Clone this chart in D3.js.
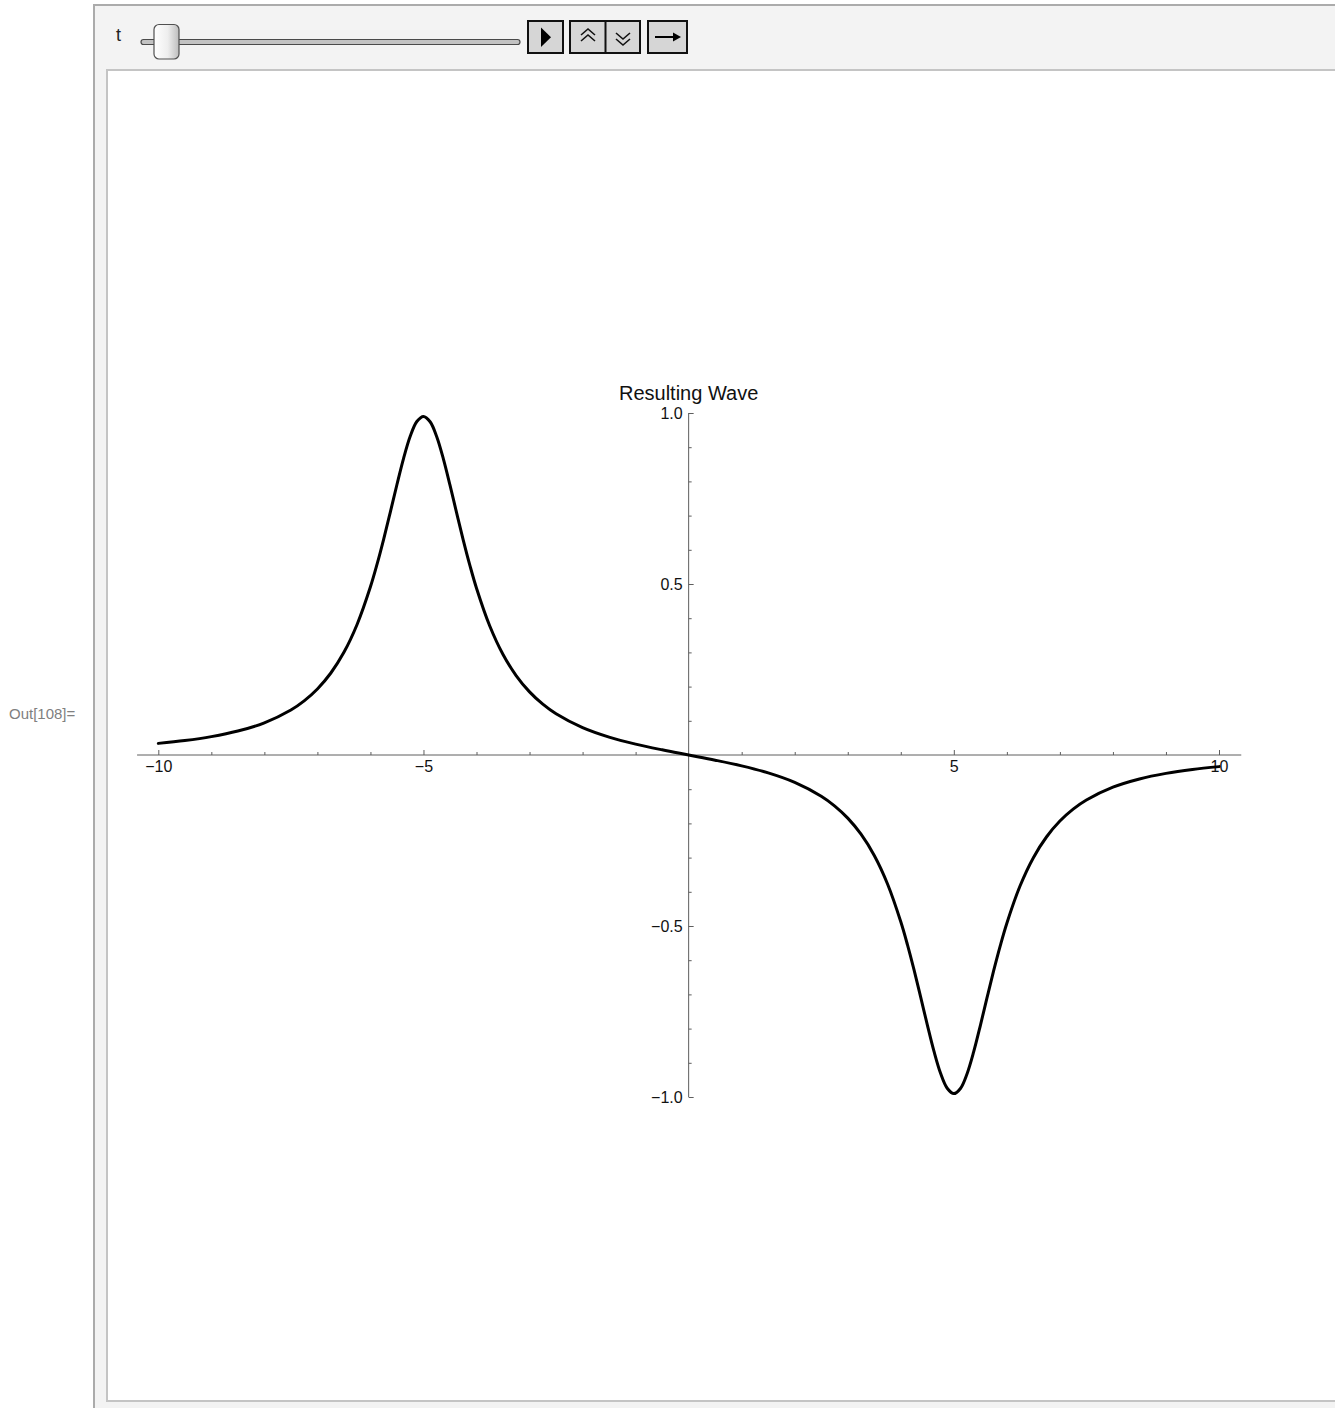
<!DOCTYPE html>
<html>
<head>
<meta charset="utf-8">
<script src="https://cdn.jsdelivr.net/npm/d3@7"></script>
<style>
  html, body { margin: 0; padding: 0; background: #ffffff; }
  svg { display: block; font-family: "Liberation Sans", Arial, sans-serif; }
</style>
</head>
<body>
<svg id="chart" width="1335" height="1408"></svg>
<script>
// Resulting wave samples (x, amplitude); denser around the two pulses
const waveX = [-10, -9.5, -9, -8.5, -8, -7.5, -7.25, -7, -6.75, -6.5, -6.25, -6, -5.875, -5.75, -5.625, -5.5, -5.375, -5.25, -5.125, -5,
  -4.875, -4.75, -4.625, -4.5, -4.375, -4.25, -4.125, -4, -3.75, -3.5, -3.25, -3, -2.75, -2.5, -2, -1.5, -1, -0.5, 0,
  0.5, 1, 1.5, 2, 2.5, 2.75, 3, 3.25, 3.5, 3.75, 4, 4.125, 4.25, 4.375, 4.5, 4.625, 4.75, 4.875, 5,
  5.125, 5.25, 5.375, 5.5, 5.625, 5.75, 5.875, 6, 6.25, 6.5, 6.75, 7, 7.25, 7.5, 8, 8.5, 9, 9.5, 10];
const waveY = [0.0340, 0.0423, 0.0537, 0.0700, 0.0941, 0.1316, 0.1583, 0.1931, 0.2390, 0.3002, 0.3824, 0.4918, 0.5580, 0.6314, 0.7103, 0.7910, 0.8675, 0.9318, 0.9750, 0.9901,
  0.9745, 0.9308, 0.8660, 0.7890, 0.7079, 0.6285, 0.5545, 0.4878, 0.3773, 0.2940, 0.2317, 0.1846, 0.1486, 0.1205, 0.0800, 0.0523, 0.0318, 0.0151, 0,
  -0.0151, -0.0318, -0.0523, -0.0800, -0.1205, -0.1486, -0.1846, -0.2317, -0.2940, -0.3773, -0.4878, -0.5545, -0.6285, -0.7079, -0.7890, -0.8660, -0.9308, -0.9745, -0.9901,
  -0.9750, -0.9318, -0.8675, -0.7910, -0.7103, -0.6314, -0.5580, -0.4918, -0.3824, -0.3002, -0.2390, -0.1931, -0.1583, -0.1316, -0.0941, -0.0700, -0.0537, -0.0423, -0.0340];

const xMajorTicks = [-10, -5, 5, 10];
const xMinorTicks = [-9, -8, -7, -6, -4, -3, -2, -1, 1, 2, 3, 4, 6, 7, 8, 9];
const yMajorTicks = [-1.0, -0.5, 0.5, 1.0];
const yMinorTicks = [-0.9, -0.8, -0.7, -0.6, -0.4, -0.3, -0.2, -0.1, 0.1, 0.2, 0.3, 0.4, 0.6, 0.7, 0.8, 0.9];
const plotTitle = "Resulting Wave";
const outLabel = "Out[108]=";
const sliderLabel = "t";

const svg = d3.select("#chart");

// ---------- Manipulate frame ----------
svg.append("rect").attr("x", 94).attr("y", 5).attr("width", 1300).attr("height", 1420)
  .attr("fill", "#f3f3f3").attr("stroke", "#ababab").attr("stroke-width", 2);
svg.append("rect").attr("x", 107).attr("y", 70).attr("width", 1300).attr("height", 1331)
  .attr("fill", "#ffffff").attr("stroke", "#c4c4c4").attr("stroke-width", 2);

svg.append("text").attr("x", 9).attr("y", 719).attr("font-size", 15).attr("fill", "#808080").text(outLabel);

// control bar: slider
svg.append("text").attr("x", 116).attr("y", 41).attr("font-size", 18).attr("fill", "#222").text(sliderLabel);
svg.append("rect").attr("x", 141).attr("y", 39.5).attr("width", 379).attr("height", 5).attr("rx", 2.5)
  .attr("fill", "#c2c2c2").attr("stroke", "#4a4a4a").attr("stroke-width", 1.2);
const defs = svg.append("defs");
const grad = defs.append("linearGradient").attr("id", "thumbGrad").attr("x1", "0").attr("x2", "1").attr("y1", "0").attr("y2", "0");
grad.append("stop").attr("offset", "0%").attr("stop-color", "#ffffff");
grad.append("stop").attr("offset", "55%").attr("stop-color", "#eeeeee");
grad.append("stop").attr("offset", "100%").attr("stop-color", "#bdbdbd");
svg.append("rect").attr("x", 154).attr("y", 24.5).attr("width", 25).attr("height", 34.5).attr("rx", 5)
  .attr("fill", "url(#thumbGrad)").attr("stroke", "#505050").attr("stroke-width", 1.2);

// control bar: buttons
const btnFill = "#d6d6d6";
svg.append("rect").attr("x", 528).attr("y", 21).attr("width", 35).attr("height", 32)
  .attr("fill", btnFill).attr("stroke", "#111").attr("stroke-width", 2);
svg.append("path").attr("d", "M541,27.5 L541,47 L551,37.2 Z").attr("fill", "#000");

svg.append("rect").attr("x", 570).attr("y", 21).attr("width", 70).attr("height", 32)
  .attr("fill", btnFill).attr("stroke", "#111").attr("stroke-width", 2);
svg.append("line").attr("x1", 605.5).attr("x2", 605.5).attr("y1", 21).attr("y2", 53).attr("stroke", "#111").attr("stroke-width", 2);
const chev = svg.append("g").attr("fill", "none").attr("stroke", "#111").attr("stroke-width", 1.6);
chev.append("path").attr("d", "M581,35 L588,29 L595,35 M581,41 L588,35 L595,41");
chev.append("path").attr("d", "M616,33 L623,39 L630,33 M616,39 L623,45 L630,39");

svg.append("rect").attr("x", 648).attr("y", 21).attr("width", 39).attr("height", 32)
  .attr("fill", btnFill).attr("stroke", "#111").attr("stroke-width", 2);
svg.append("line").attr("x1", 655).attr("x2", 676).attr("y1", 37).attr("y2", 37).attr("stroke", "#000").attr("stroke-width", 2);
svg.append("path").attr("d", "M673,32.5 L681,37 L673,41.5 Z").attr("fill", "#000");

// ---------- plot ----------
const x = d3.scaleLinear().domain([-10, 10]).range([158.3, 1219]);
const y = d3.scaleLinear().domain([-1, 1]).range([1097, 413]);
const axisColor = "#5e5e5e";
const fmt = d3.format(".1f");

function styleAxis(g) {
  g.select(".domain").remove();
  g.selectAll(".tick line").attr("stroke", axisColor).attr("stroke-width", 1);
  g.selectAll(".tick text").attr("fill", "#111").attr("font-size", 16)
    .attr("font-family", "'Liberation Sans', Arial, sans-serif");
}

// x axis line (extends past the data range)
svg.append("line").attr("x1", x(-10.4)).attr("x2", x(10.42)).attr("y1", y(0)).attr("y2", y(0))
  .attr("stroke", axisColor).attr("stroke-width", 1);
svg.append("g").attr("transform", `translate(0,${y(0)})`)
  .call(d3.axisBottom(x).tickValues(xMinorTicks).tickSize(-3).tickFormat(""))
  .call(styleAxis);
svg.append("g").attr("transform", `translate(0,${y(0)})`)
  .call(d3.axisBottom(x).tickValues(xMajorTicks).tickSize(-5).tickPadding(6).tickFormat(d3.format("d")))
  .call(styleAxis);

// y axis line
svg.append("line").attr("x1", x(0)).attr("x2", x(0)).attr("y1", y(1)).attr("y2", y(-1))
  .attr("stroke", axisColor).attr("stroke-width", 1);
svg.append("g").attr("transform", `translate(${x(0)},0)`)
  .call(d3.axisLeft(y).tickValues(yMinorTicks).tickSize(-3).tickFormat(""))
  .call(styleAxis);
svg.append("g").attr("transform", `translate(${x(0)},0)`)
  .call(d3.axisLeft(y).tickValues(yMajorTicks).tickSize(-5).tickPadding(6).tickFormat(fmt))
  .call(styleAxis);

// title
svg.append("text").attr("x", x(0)).attr("y", 400).attr("text-anchor", "middle")
  .attr("font-size", 20).attr("fill", "#111").text(plotTitle);

// wave curve
const pts = waveX.map((d, i) => [d, waveY[i]]);
const line = d3.line().x(d => x(d[0])).y(d => y(d[1])).curve(d3.curveCatmullRom.alpha(0.5));
svg.append("path").datum(pts).attr("d", line)
  .attr("fill", "none").attr("stroke", "#000").attr("stroke-width", 3)
  .attr("stroke-linejoin", "round").attr("stroke-linecap", "round");
</script>
</body>
</html>
